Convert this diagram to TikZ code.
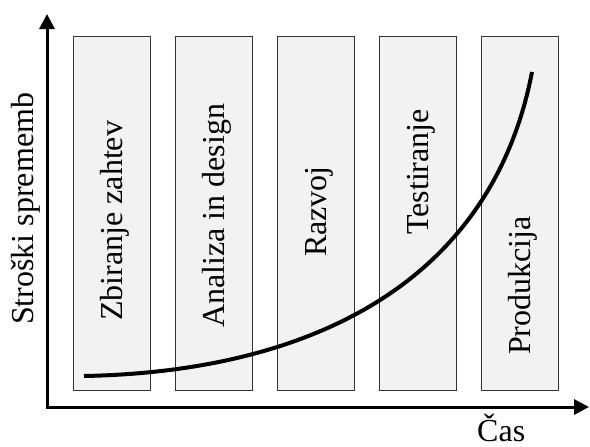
\documentclass[tikz,border=0pt]{standalone}
\usepackage{fontspec}
\setmainfont{Liberation Serif}
\usetikzlibrary{arrows.meta,positioning}
\definecolor{BoxGray}{gray}{0.95}
\tikzset{
	phase/.style={
		draw=black!80,fill=BoxGray,line width=1pt,
		minimum width=77pt,minimum height=354pt,inner sep=0pt,anchor=north west},
	vlabel/.style={rotate=90,anchor=base west,inner sep=0pt},
	axis/.style={line width=3pt,{Triangle[width=15pt,length=15pt]}-{Triangle[width=15pt,length=15pt]}},
	growth/.style={line width=4pt}
}
\def\bigfont{\fontsize{32}{38}\selectfont}

\begin{document}
\begin{tikzpicture}[x=1pt,y=-1pt,font=\bigfont]
	\useasboundingbox (0,0) rectangle (590,447);
	\foreach \i/\txt/\start in {0/Zbiranje zahtev/321,1/Analiza in design/328,2/Razvoj/257,3/Testiranje/235,4/Produkcija/355}{
		\node[phase] (p\i) at (73+102*\i,36) {};
		\node[vlabel] (t\i) at (122+102*\i,\start) {\txt};
	}
	\coordinate (origin) at (47,407);
	\coordinate (ytip) at (47,14);
	\coordinate (xtip) at (589,407);
	\draw[axis] (ytip) -- (origin) -- (xtip);
	\coordinate (c0) at (84,376);
	\coordinate (c1) at (532,72);
	\draw[growth] (c0) .. controls (300,372) and (490,290) .. (c1);
	\node[vlabel] (ylab) at (33,325) {Stroški sprememb};
	\node[anchor=base west,inner sep=0pt] (xlab) at (477,441) {Čas};
\end{tikzpicture}
\end{document}
